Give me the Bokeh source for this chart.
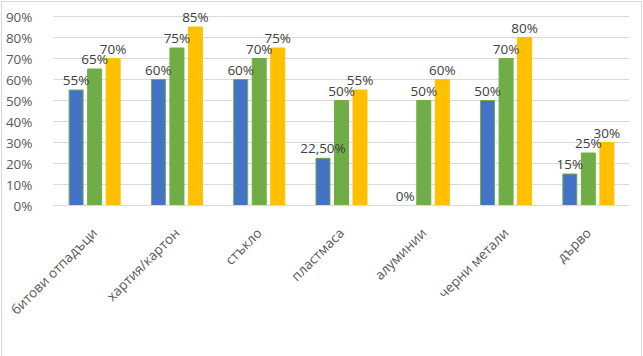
from bokeh.plotting import figure
from bokeh.models import (FactorRange, Range1d, FixedTicker, Legend, LegendItem,
                          ColumnDataSource, NumeralTickFormatter)
from bokeh.transform import dodge
from bokeh.core.properties import value
from bokeh.embed import file_html
from bokeh.resources import INLINE
import math

categories = ["битови отпадъци", "хартия/картон", "стъкло", "пластмаса",
              "алуминии", "черни метали", "дърво"]
current = [0.55, 0.60, 0.60, 0.225, 0.0, 0.50, 0.15]
target_2025 = [0.65, 0.75, 0.70, 0.50, 0.50, 0.70, 0.25]
target_2030 = [0.70, 0.85, 0.75, 0.55, 0.60, 0.80, 0.30]
current_labels = ["55%", "60%", "60%", "22,50%", "0%", "50%", "15%"]
labels_2025 = ["65%", "75%", "70%", "50%", "50%", "70%", "25%"]
labels_2030 = ["70%", "85%", "75%", "55%", "60%", "80%", "30%"]
series_names = ["настоящи цели", "цели 2025", "цели 2030"]
y_ticks = [0.0, 0.1, 0.2, 0.3, 0.4, 0.5, 0.6, 0.7, 0.8, 0.9]

src = ColumnDataSource(dict(cat=categories, cur=current, t25=target_2025, t30=target_2030,
                            lc=current_labels, l25=labels_2025, l30=labels_2030))

FNAME = "Open Sans"
FSIZE = "13.5px"
p = figure(x_range=FactorRange(*categories), y_range=Range1d(0, 0.9667),
           width=638, height=352, frame_width=576, frame_height=203,
           output_backend="svg", toolbar_location=None,
           min_border_left=50, min_border_right=12, min_border_top=0, min_border_bottom=0)
p.styles = {"margin-left": "1px", "margin-top": "1px", "border": "1px solid #D9D9D9"}
p.outline_line_color = None
p.background_fill_color = "white"
p.border_fill_color = "white"

p.xgrid.grid_line_color = None
p.ygrid.ticker = FixedTicker(ticks=y_ticks)
p.ygrid.grid_line_color = "#D9D9D9"
p.ygrid.grid_line_width = 1

p.yaxis.ticker = FixedTicker(ticks=y_ticks)
p.yaxis.formatter = NumeralTickFormatter(format="0%")
p.yaxis.axis_line_color = None
p.yaxis.major_tick_line_color = None
p.yaxis.minor_tick_line_color = None
p.yaxis.major_label_standoff = 15
p.yaxis.major_label_text_font = FNAME
p.yaxis.major_label_text_font_size = FSIZE
p.yaxis.major_label_text_color = "#595959"

p.xaxis.axis_line_color = "#D9D9D9"
p.xaxis.major_tick_line_color = None
p.xaxis.minor_tick_line_color = None
p.xaxis.major_label_orientation = math.pi / 4
p.xaxis.major_label_standoff = 19
p.xaxis.major_label_text_font = FNAME
p.xaxis.major_label_text_font_size = FSIZE
p.xaxis.major_label_text_color = "#595959"

colors = ["#4472C4", "#70AD47", "#FFC000"]
edges = ["#70AD47", "#70AD47", "#FFC000"]
cols = ["cur", "t25", "t30"]
lcols = ["lc", "l25", "l30"]
offsets = [-0.225, 0.0, 0.225]
renderers = []
for c, off, fc, ec in zip(cols, offsets, colors, edges):
    r = p.vbar(x=dodge("cat", off, range=p.x_range), top=c, width=0.17, source=src,
               fill_color=fc, line_color=ec, line_width=1)
    renderers.append(r)
for c, lc, off in zip(cols, lcols, offsets):
    p.text(x=dodge("cat", off, range=p.x_range), y=c, text=lc, source=src,
           text_align="center", text_baseline="alphabetic", y_offset=-10,
           text_font=value(FNAME), text_font_size=FSIZE, text_color="#404040")

legend = Legend(items=[LegendItem(label=n, renderers=[r]) for n, r in zip(series_names, renderers)],
                orientation="horizontal", location=(111, 9),
                glyph_width=9, glyph_height=9, label_standoff=5, spacing=20,
                padding=0, margin=0, border_line_color=None, background_fill_alpha=0,
                label_text_font=FNAME, label_text_font_size=FSIZE,
                label_text_color="#595959", label_height=16)
p.add_layout(legend, "below")

open("out.html", "w").write(file_html(p, INLINE))
